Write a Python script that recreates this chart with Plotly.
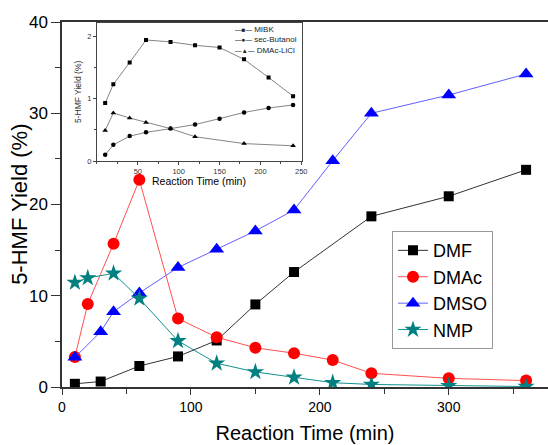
import plotly.graph_objects as go

# Main chart data
dmf_x = [10, 30, 60, 90, 120, 150, 180, 240, 300, 360]
dmf_y = [0.35, 0.6, 2.3, 3.35, 5.1, 9.05, 12.6, 18.7, 20.9, 23.8]

dmac_x = [10, 20, 40, 60, 90, 120, 150, 180, 210, 240, 300, 360]
dmac_y = [3.3, 9.1, 15.7, 22.7, 7.5, 5.45, 4.3, 3.7, 2.95, 1.5, 0.95, 0.7]

dmso_x = [10, 30, 40, 60, 90, 120, 150, 180, 210, 240, 300, 360]
dmso_y = [3.25, 6.05, 8.25, 10.3, 13.1, 15.1, 17.1, 19.4, 24.8, 30.0, 32.0, 34.3]

nmp_x = [10, 20, 40, 60, 90, 120, 150, 180, 210, 240, 300, 360]
nmp_y = [11.45, 11.95, 12.45, 9.7, 5.05, 2.6, 1.65, 1.05, 0.47, 0.28, 0.14, 0.05]

# Inset data
mibk_x = [10, 20, 40, 60, 90, 120, 150, 180, 210, 240]
mibk_y = [0.93, 1.23, 1.58, 1.94, 1.91, 1.855, 1.82, 1.63, 1.34, 1.04]

sbut_x = [10, 20, 40, 60, 90, 120, 150, 180, 210, 240]
sbut_y = [0.1, 0.26, 0.40, 0.46, 0.52, 0.585, 0.68, 0.78, 0.85, 0.90]

licl_x = [10, 20, 40, 60, 90, 120, 180, 240]
licl_y = [0.49, 0.77, 0.69, 0.62, 0.52, 0.39, 0.28, 0.245]

inset_names = ["MIBK", "sec-Butanol", "DMAc-LiCl"]
inset_glyphs = ["■", "●", "▲"]

FONT = "Liberation Sans, Arial, sans-serif"

fig = go.Figure()

fig.add_trace(go.Scatter(x=dmf_x, y=dmf_y, name="DMF", mode="lines+markers",
                         line=dict(color="#333333", width=1),
                         marker=dict(symbol="square", size=10, color="black")))
fig.add_trace(go.Scatter(x=dmac_x, y=dmac_y, name="DMAc", mode="lines+markers",
                         line=dict(color="#ff5050", width=1),
                         marker=dict(symbol="circle", size=12, color="red")))
fig.add_trace(go.Scatter(x=dmso_x, y=dmso_y, name="DMSO", mode="lines+markers",
                         line=dict(color="#6060ff", width=1),
                         marker=dict(symbol="triangle-up", size=13, color="blue")))
fig.add_trace(go.Scatter(x=nmp_x, y=nmp_y, name="NMP", mode="lines+markers",
                         line=dict(color="#139090", width=1),
                         marker=dict(symbol="star", size=13, color="#008080")))

inset_line = dict(color="#666666", width=0.8)
fig.add_trace(go.Scatter(x=mibk_x, y=mibk_y, name=inset_names[0], mode="lines+markers",
                         xaxis="x2", yaxis="y2", showlegend=False, line=inset_line,
                         marker=dict(symbol="square", size=4, color="black")))
fig.add_trace(go.Scatter(x=sbut_x, y=sbut_y, name=inset_names[1], mode="lines+markers",
                         xaxis="x2", yaxis="y2", showlegend=False, line=inset_line,
                         marker=dict(symbol="circle", size=4.5, color="black")))
fig.add_trace(go.Scatter(x=licl_x, y=licl_y, name=inset_names[2], mode="lines+markers",
                         xaxis="x2", yaxis="y2", showlegend=False, line=inset_line,
                         marker=dict(symbol="triangle-up", size=5, color="black")))

# compact inset legend (text)
inset_legend = "<br>".join(
    f"<span style='font-size:6.5px'>—{g}—</span> {n}" for g, n in zip(inset_glyphs, inset_names))
fig.add_annotation(text=inset_legend, xref="paper", yref="paper", x=0.352, y=0.998,
                   xanchor="left", yanchor="top", align="left", showarrow=False,
                   font=dict(size=8, color="#222222", family=FONT))

# axis titles placed as annotations
fig.add_annotation(text="5-HMF Yield (%)", xref="paper", yref="paper", x=-0.0864, y=0.499,
                   textangle=-90, showarrow=False, xanchor="center", yanchor="middle",
                   font=dict(size=22, family=FONT, color="black"))
fig.add_annotation(text="Reaction Time (min)", xref="paper", yref="paper", x=0.282, y=0.5644,
                   showarrow=False, xanchor="center", yanchor="middle",
                   font=dict(size=10.5, family=FONT, color="black"))

fig.update_layout(
    width=548, height=445,
    margin=dict(l=62, r=0, t=22, b=58),
    paper_bgcolor="white", plot_bgcolor="white",
    font=dict(family=FONT, color="black"),
    xaxis=dict(range=[0, 377], domain=[0, 1], dtick=100, tick0=0, automargin=False,
               showline=True, linecolor="#333333", linewidth=1.5, mirror=True,
               ticks="outside", ticklen=6, tickcolor="#333333", showgrid=False, zeroline=False,
               minor=dict(dtick=50, ticks="outside", ticklen=5, tickcolor="#333333"),
               tickfont=dict(size=14),
               title=dict(text="Reaction Time (min)", font=dict(size=20), standoff=12)),
    yaxis=dict(range=[0, 40], domain=[0, 1], dtick=10, tick0=0, automargin=False,
               showline=True, linecolor="#333333", linewidth=1.5,
               ticks="outside", ticklen=9, tickcolor="#333333", showgrid=False, zeroline=False,
               minor=dict(dtick=5, ticks="outside", ticklen=5, tickcolor="#333333"),
               tickfont=dict(size=17)),
    xaxis2=dict(anchor="y2", domain=[0.072, 0.494], range=[0, 251], dtick=50, tick0=0,
                automargin=False,
                showline=True, linecolor="#444444", linewidth=1, mirror=True,
                ticks="outside", ticklen=3, tickcolor="#444444", showgrid=False, zeroline=False,
                minor=dict(dtick=25, ticks="outside", ticklen=2, tickcolor="#444444"),
                tickfont=dict(size=7.5, color="#333333"),
                tickvals=[50, 100, 150, 200, 250]),
    yaxis2=dict(anchor="x2", domain=[0.619, 0.998], range=[0, 2.217], dtick=1, tick0=0,
                automargin=False,
                showline=True, linecolor="#444444", linewidth=1, mirror=True,
                ticks="outside", ticklen=3, tickcolor="#444444", showgrid=False, zeroline=False,
                minor=dict(dtick=0.5, ticks="outside", ticklen=2, tickcolor="#444444"),
                tickfont=dict(size=7.5, color="#333333"),
                title=dict(text="5-HMF Yield (%)", font=dict(size=8.5, color="#333333"), standoff=4)),
    legend=dict(x=0.679, y=0.427, xanchor="left", yanchor="top",
                bgcolor="white", bordercolor="#999999", borderwidth=1,
                font=dict(size=18), tracegroupgap=0, itemwidth=30),
)

fig.write_html("out.html", config={"displayModeBar": False},
               post_script="document.body.style.margin='0px';")
